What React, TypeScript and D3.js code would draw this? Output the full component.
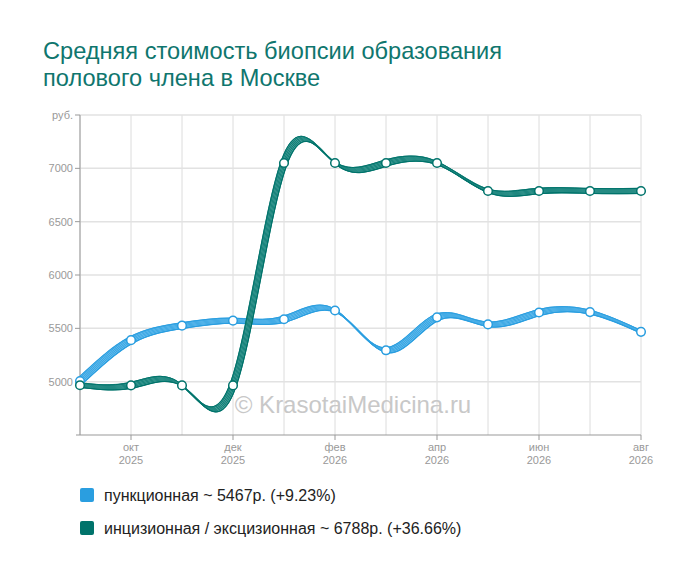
import * as d3 from 'd3'

const months = ['сен', 'окт', 'ноя', 'дек', 'янв', 'фев', 'мар', 'апр', 'май', 'июн', 'июл', 'авг']
const years = ['2025', '2025', '2025', '2025', '2026', '2026', '2026', '2026', '2026', '2026', '2026', '2026']
const punctionValues = [5005, 5389, 5525, 5572, 5585, 5667, 5294, 5603, 5537, 5648, 5652, 5467]
const incisionValues = [4967, 4965, 4965, 4965, 7050, 7050, 7050, 7050, 6788, 6788, 6788, 6788]
const yTicks = [5000, 5500, 6000, 6500, 7000]
const yUnitLabel = 'руб.'
const titleLines = ['Средняя стоимость биопсии образования', 'полового члена в Москве']
const legendLabels = [
  'пункционная ~ 5467р. (+9.23%)',
  'инцизионная / эксцизионная ~ 6788р. (+36.66%)',
]

const W = 700
const H = 578
const left = 80
const right = 641
const top = 115
const bottom = 435

const series = [
  { values: punctionValues, color: '#2a9ee0', light: '#6cc0ee' },
  { values: incisionValues, color: '#00736b', light: '#4aa39c' },
]

export default function App() {
  const x = d3.scalePoint<number>().domain(d3.range(months.length)).range([left, right])
  const y = d3.scaleLinear().domain([4500, 7500]).range([bottom, top])

  const line = d3
    .line<number>()
    .x((_, i) => x(i) as number)
    .y((d) => y(d))
    .curve(d3.curveNatural)

  // offsets for the ribbon look
  const offsets = d3.range(-2.5, 2.51, 0.5)

  return (
    <div style={{ position: 'absolute', left: 0, top: 0 }}>
      <svg width={W} height={H} style={{ display: 'block', fontFamily: 'Liberation Sans, Arial, sans-serif' }}>
        <rect width={W} height={H} fill="#fff" />

        {titleLines.map((t, i) => (
          <text key={t} x={43} y={59 + i * 27} fontSize={23.6} fill="#0f766e">
            {t}
          </text>
        ))}

        {/* grid */}
        {d3.range(months.length).map((i) => (
          <line key={'v' + i} x1={x(i)} x2={x(i)} y1={top} y2={bottom} stroke="#dcdcdc" strokeWidth={1} />
        ))}
        {[...yTicks, 7500].map((v) => (
          <line key={'h' + v} x1={left} x2={right} y1={y(v)} y2={y(v)} stroke="#e2e2e2" strokeWidth={1.5} />
        ))}

        {/* y axis */}
        <line x1={left} x2={left} y1={top} y2={bottom} stroke="#999" />
        {[...yTicks, 7500].map((v) => (
          <g key={'yt' + v}>
            <line x1={left - 5} x2={left} y1={y(v)} y2={y(v)} stroke="#999" />
            <text x={left - 7} y={y(v) + 4} textAnchor="end" fontSize={11} fill="#999">
              {v === 7500 ? yUnitLabel : v}
            </text>
          </g>
        ))}

        {/* x axis */}
        <line x1={left - 4} x2={right} y1={bottom} y2={bottom} stroke="#999" />
        {d3.range(months.length)
          .filter((i) => i % 2 === 1)
          .map((i) => (
            <g key={'xt' + i}>
              <line x1={x(i)} x2={x(i)} y1={bottom} y2={bottom + 5} stroke="#999" />
              <text x={x(i)} y={bottom + 16} textAnchor="middle" fontSize={11} fill="#999">
                {months[i]}
              </text>
              <text x={x(i)} y={bottom + 29} textAnchor="middle" fontSize={11} fill="#999">
                {years[i]}
              </text>
            </g>
          ))}

        <text x={353} y={413} textAnchor="middle" fontSize={24} fill="#c8c8c8">
          © KrasotaiMedicina.ru
        </text>

        {/* ribbons */}
        {series.map((s, si) => (
          <g key={'s' + si}>
            {offsets.map((o, k) => (
              <path
                key={k}
                d={line(s.values) || ''}
                transform={`translate(${o},${o})`}
                fill="none"
                stroke={k % 2 === 0 ? s.color : s.light}
                strokeWidth={1.3}
              />
            ))}
            <path d={line(s.values) || ''} transform="translate(-2.5,-2.5)" fill="none" stroke={s.color} strokeWidth={1} />
            <path d={line(s.values) || ''} transform="translate(2.5,2.5)" fill="none" stroke={s.color} strokeWidth={1} />
          </g>
        ))}

        {/* points */}
        {series.map((s, si) =>
          s.values.map((v, i) => (
            <circle key={si + '-' + i} cx={x(i)} cy={y(v)} r={4.3} fill="#fff" stroke={s.color} strokeWidth={1.5} />
          ))
        )}

        {/* legend */}
        {legendLabels.map((l, i) => (
          <g key={l}>
            <rect x={80} y={488 + i * 33} width={14} height={14} rx={2} fill={series[i].color} />
            <text x={104} y={501 + i * 33} fontSize={16} fill="#222">
              {l}
            </text>
          </g>
        ))}
      </svg>
    </div>
  )
}
